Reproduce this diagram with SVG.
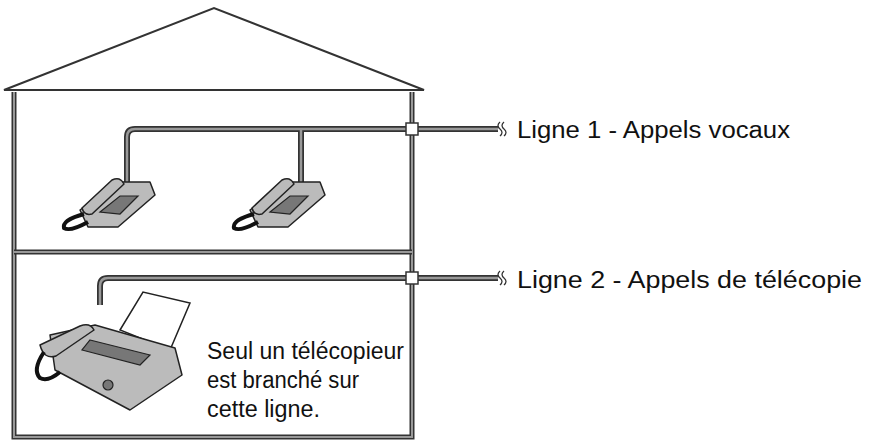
<svg xmlns="http://www.w3.org/2000/svg" width="873" height="443" viewBox="0 0 873 443">
<style>
.wall{fill:none;stroke:#333;stroke-width:5}
.wallin{fill:none;stroke:#999;stroke-width:2}
.cab{fill:none;stroke:#333;stroke-width:6}
.cabin{fill:none;stroke:#999;stroke-width:2.5}
.jack{fill:#fff;stroke:#333;stroke-width:1.5}
.t{font-family:"Liberation Sans",Arial,sans-serif;font-size:23px;fill:#111}
.sq{fill:none;stroke:#333;stroke-width:1.3}
.ph{fill:#bbb;stroke:#222;stroke-width:1.5;stroke-linejoin:round}
.phd{fill:#777;stroke:#222;stroke-width:1.2}
.cord{fill:none;stroke:#111;stroke-width:4}
</style>
<rect width="873" height="443" fill="#fff"/>
<g id="house">
<path d="M4,90 L214,8 L424,90 Z" fill="none" stroke="#333" stroke-width="2"/>
<path class="wall" d="M14,92 V437 H412 V92"/>
<path class="wallin" d="M14,92 V437 H412 V92"/>
<path class="wall" d="M14,252 H412"/>
<path class="wallin" d="M14,252 H412"/>
</g>
<g id="connectors">
<path class="cab" d="M127,192 V137 Q127,129 135,129 H498 M301,129 V192"/>
<path class="cabin" d="M127,192 V137 Q127,129 135,129 H498 M301,129 V192"/>
<path class="cab" d="M100,305 V286 Q100,278 108,278 H498"/>
<path class="cabin" d="M100,305 V286 Q100,278 108,278 H498"/>
<rect class="jack" x="406" y="123" width="12" height="12"/>
<rect class="jack" x="406" y="272" width="12" height="12"/>
<path class="sq" d="M500,122 q-4,3.5 0,7 t0,7 M504,122 q-4,3.5 0,7 t0,7"/>
<path class="sq" d="M500,271 q-4,3.5 0,7 t0,7 M504,271 q-4,3.5 0,7 t0,7"/>
</g>
<g id="phone1">
<path class="ph" d="M80,210 L118,182 L150,182 L155,195 L118,227 L88,227 Z"/>
<path class="phd" d="M100,212 L120,196 L138,196 L120,214 Z"/>
<path class="ph" d="M82,208 L112,180 Q120,176 124,184 L92,214 Q84,216 82,208 Z"/>
<path class="cord" d="M84,214 Q62,220 64,228 Q70,232 88,222"/>
</g>
<g id="phone2">
<path class="ph" d="M250,210 L288,182 L320,182 L325,195 L288,227 L258,227 Z"/>
<path class="phd" d="M270,212 L290,196 L308,196 L290,214 Z"/>
<path class="ph" d="M252,208 L282,180 Q290,176 294,184 L262,214 Q254,216 252,208 Z"/>
<path class="cord" d="M254,214 Q232,220 234,228 Q240,232 258,222"/>
</g>
<g id="fax">
<path d="M120,330 L143,292 L190,303 L170,350 Z" fill="#fff" stroke="#222" stroke-width="1.5"/>
<path class="ph" d="M50,335 L95,325 L175,348 L182,375 L130,410 L55,370 Z"/>
<path class="ph" d="M40,345 L80,326 Q90,322 94,330 L56,356 Q44,360 40,345 Z"/>
<path class="phd" d="M90,340 L150,355 L140,365 L82,350 Z"/>
<circle cx="108" cy="385" r="5" class="phd"/>
<path class="cord" d="M44,352 Q32,370 40,378 Q48,382 60,372"/>
</g>
<g id="labels">
<text class="t" x="517" y="138" textLength="273" lengthAdjust="spacingAndGlyphs">Ligne 1 - Appels vocaux</text>
<text class="t" x="517" y="288" textLength="345" lengthAdjust="spacingAndGlyphs">Ligne 2 - Appels de télécopie</text>
<text class="t" x="207" y="359" textLength="197" lengthAdjust="spacingAndGlyphs">Seul un télécopieur</text>
<text class="t" x="207" y="388" textLength="152" lengthAdjust="spacingAndGlyphs">est branché sur</text>
<text class="t" x="207" y="417" textLength="113" lengthAdjust="spacingAndGlyphs">cette ligne.</text>
</g>
</svg>
